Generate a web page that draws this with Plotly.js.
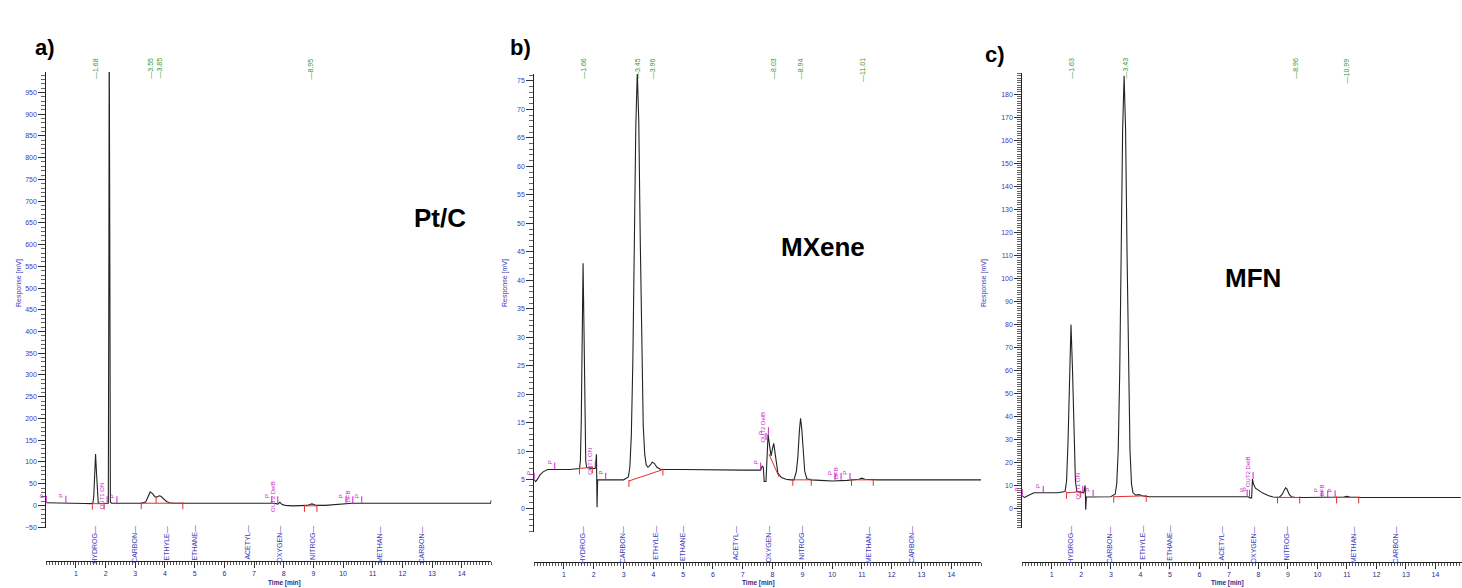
<!DOCTYPE html>
<html><head><meta charset="utf-8">
<script src="https://cdn.plot.ly/plotly-3.0.1.min.js"></script>
<style>html,body{margin:0;padding:0;background:#fff;}#chart{width:1462px;height:588px;}</style>
</head><body><div id="chart"></div>
<script>
// ---------- DATA ----------
// Panel a) Pt/C chromatogram
const aTime = [
0, 0.3, 0.7, 1.0, 1.3, 1.5, 1.57, 1.60, 1.63, 1.66,
1.69, 1.72, 1.75, 1.80, 1.95, 2.05, 2.09, 2.11, 2.12, 2.14,
2.16, 2.20, 2.5, 3.0, 3.2, 3.35, 3.42, 3.50, 3.58, 3.66,
3.72, 3.80, 3.86, 3.95, 4.05, 4.15, 4.30, 5.0, 6.0, 7.0,
7.70, 7.80, 7.87, 7.95, 8.05, 8.3, 8.6, 8.8, 8.9, 8.95,
9.0, 9.1, 9.4, 9.7, 9.9, 10.1, 10.3, 11.0, 12.0, 13.0,
14.0, 14.97, 15.0];
const aResp = [
6, 6, 5.5, 5, 4.5, 4, 5.5, 21, 77, 118,
77, 21, 6.5, 4.5, 4, 4, 5, 600, 1100, 600,
8, 5, 5, 5, 5, 8, 18, 31, 27, 20,
19, 22, 21, 15, 9, 6, 5, 5, 5, 5,
5, 3, 7, 2, 0, -1, -1, 0, 2.5, 3.5,
2.5, 0, 0, 1.5, 3, 5, 5, 5, 5, 5,
5, 5, 12];
// Panel b) MXene chromatogram
const bTime = [
0, 0.05, 0.12, 0.2, 0.3, 0.45, 0.8, 1.2, 1.52, 1.55,
1.58, 1.61, 1.64, 1.67, 1.70, 1.73, 1.76, 1.9, 2.05, 2.09,
2.11, 2.13, 2.16, 2.22, 2.6, 3.0, 3.16, 3.21, 3.26, 3.31,
3.36, 3.41, 3.46, 3.51, 3.56, 3.61, 3.66, 3.71, 3.76, 3.82,
3.90, 3.96, 4.03, 4.12, 4.25, 5.0, 6.0, 7.0, 7.60, 7.65,
7.69, 7.72, 7.78, 7.82, 7.85, 7.90, 7.95, 8.00, 8.04, 8.09,
8.18, 8.30, 8.45, 8.60, 8.72, 8.80, 8.85, 8.90, 8.94, 8.98,
9.03, 9.08, 9.15, 9.30, 9.60, 10.0, 10.5, 10.9, 11.0, 11.1,
11.5, 12.5, 14.0, 15.0];
const bResp = [
5, 4.7, 5.2, 5.9, 6.4, 6.8, 6.8, 6.8, 7, 8.3,
15.3, 32, 43, 32, 15.3, 8.3, 7.2, 7, 7, 9.5,
0.2, 5, 5, 5, 5, 5, 5.5, 7.2, 12.8, 25.6,
46, 67, 76.5, 68, 47, 27, 14.5, 9.5, 7.6, 7.2,
7.6, 8.1, 7.9, 7.2, 6.8, 6.8, 6.7, 6.7, 6.7, 7.4,
7.2, 4.7, 4.7, 10, 13, 11, 9.2, 10.5, 11.4, 9.5,
6.2, 5.4, 5.1, 5.0, 5.0, 6.5, 9, 13.5, 15.8, 14,
9.5, 6.5, 5.2, 5.0, 4.9, 4.8, 4.9, 5.1, 5.3, 5.1,
5.0, 5.0, 5.0, 5.0];
// Panel c) MFN chromatogram
const cTime = [
0, 0.08, 0.2, 0.4, 0.8, 1.2, 1.45, 1.50, 1.55, 1.60,
1.65, 1.70, 1.75, 1.80, 1.85, 1.95, 2.08, 2.13, 2.15, 2.17,
2.22, 2.6, 3.0, 3.15, 3.20, 3.25, 3.30, 3.35, 3.40, 3.45,
3.50, 3.55, 3.60, 3.65, 3.70, 3.75, 3.85, 3.95, 4.1, 4.3,
5.0, 6.0, 7.0, 7.65, 7.72, 7.77, 7.80, 7.83, 7.9, 8.0,
8.1, 8.2, 8.35, 8.5, 8.7, 8.80, 8.87, 8.92, 8.96, 9.0,
9.05, 9.12, 9.25, 9.6, 10.5, 10.9, 11.0, 11.1, 11.5, 13.0,
14.86];
const cResp = [
5.5, 5, 5.8, 7, 7, 7, 7.6, 12.1, 29.4, 61,
80, 61, 29.4, 12.1, 7.6, 7.2, 7, 10.2, -0.3, 5.2,
5.2, 5.2, 5.3, 6.5, 11, 25.3, 58, 110.5, 164.6, 188,
164.6, 110.5, 58, 25.3, 11, 7, 6, 6.2, 5.6, 5.3,
5.3, 5.3, 5.3, 5.3, 4.8, 4.8, 13, 11, 9, 8,
7.3, 6.6, 5.7, 5.2, 5.0, 6.2, 8.2, 9.2, 8.8, 7.6,
6.2, 5.3, 5.0, 5.0, 5.0, 5.2, 5.5, 5.2, 5.0, 5.0,
5.0];

// integration baselines (red)
const aBaseT = [1.55, 1.95, null, 3.2, 4.6, null, 8.7, 9.12];
const aBaseY = [4, 4, null, 5, 5, null, -1, -1];
const bBaseT = [1.52, 1.95, null, 3.18, 4.32, null, 7.88, 8.22, null, 8.68, 9.3, null, 10.65, 11.38];
const bBaseY = [7, 7.2, null, 4.8, 6.8, null, 9.5, 5.5, null, 5.0, 5.0, null, 5.0, 5.0];
const cBaseT = [1.5, 1.98, null, 3.1, 4.2, null, 8.65, 9.4, null, 10.65, 11.4];
const cBaseY = [7, 7.5, null, 5.3, 5.7, null, 5, 5, null, 5, 5];
const aTickT = [1.55, 1.95, 3.2, 3.7, 4.6, 8.7, 9.12];
const aTickY = [4, 4, 5, 19, 5, -1, -1];
const bTickT = [1.52, 1.95, 3.18, 4.32, 8.68, 9.3, 10.65, 11.38];
const bTickY = [7, 7.2, 4.8, 6.8, 5, 5, 5, 5];
const cTickT = [1.5, 1.98, 3.1, 4.2, 8.65, 9.4, 10.65, 11.4];
const cTickY = [7, 7.5, 5.3, 5.7, 5, 5, 5, 5];

// retention-time labels (green)
const aRT = ["1.68", "3.55", "3.85", "8.95"];
const aRTx = [1.66, 3.5, 3.8, 8.92];
const bRT = ["1.66", "3.45", "3.96", "8.03", "8.94", "11.01"];
const bRTx = [1.65, 3.47, 3.98, 8.03, 8.95, 11.0];
const cRT = ["1.63", "3.43", "8.96", "10.99"];
const cRTx = [1.66, 3.48, 9.25, 11.0];

// compound names (blue) and their times
const compounds = ["HYDROG", "CARBON", "ETHYLE", "ETHANE", "ACETYL", "OXYGEN", "NITROG", "METHAN", "CARBON"];
const compoundT = [1.6, 2.97, 4.05, 4.98, 6.75, 7.85, 8.95, 11.23, 12.66];

// event markers (magenta)
const aEvT = [0.0, 0.66, 2.05, 2.38, 7.6, 7.8, 10.1, 10.33, 10.63];
const aEvY = [6, 6, 5, 5, 5, 5, 5, 5, 5];
const aEvTxt = ["P", "P", "OUT1 ON", "P", "P", "OUT2 DelB", "P", "BFB", "P"];
const bEvT = [0.0, 0.69, 2.05, 2.4, 7.6, 7.78, 7.86, 10.1, 10.3, 10.6];
const bEvY = [5, 6.8, 7, 5, 6.8, 12, 13, 5, 5, 5];
const bEvTxt = ["P", "P", "OUT1 ON", "P", "P", "P", "OUT2 DelB", "P", "BFB", "P"];
const cEvT = [0.0, 0.71, 2.05, 2.4, 7.62, 7.7, 7.82, 10.15, 10.35, 10.6];
const cEvY = [5.5, 7, 7, 5.3, 5.3, 5.3, 13, 5, 5, 5];
const cEvTxt = ["P", "P", "OUT1 ON", "P", "P", "P", "OUT2 DelB", "P", "BFB", "P"];

const panelNames = ["Pt/C", "MXene", "MFN"];
const panelLetters = ["a)", "b)", "c)"];

// ---------- STYLE / LAYOUT ----------
const W = 1462, H = 588;
const px = v => v / W, py = v => 1 - v / H;
const BLUE = "#3b3bbb", NAVY = "#2a2a8a", GREEN = "#2e9a2e", MAG = "#cc22cc", RED = "#e03030";
const FONT = "Liberation Sans, Arial, sans-serif";

const panels = [
  {t: aTime, r: aResp, bt: aBaseT, by: aBaseY, tt: aTickT, ty: aTickY, rt: aRT, rtx: aRTx, ev: [aEvT, aEvY, aEvTxt],
   xd: [46.3, 491.4], xr: [0, 15], xpos: 561, yd: [528, 72], yr: [-52, 997], dt: 50, mdt: 10, ppu: 0.436,
   ytitle: 13, name: [412, 218], letter: [33, 33], timeX: 267},
  {t: bTime, r: bResp, bt: bBaseT, by: bBaseY, tt: bTickT, ty: bTickY, rt: bRT, rtx: bRTx, ev: [bEvT, bEvY, bEvTxt],
   xd: [534.2, 981.1], xr: [0, 15], xpos: 562, yd: [531.7, 74], yr: [-4.1, 76.2], dt: 5, mdt: 1, ppu: 5.70,
   ytitle: 505, name: [823, 247], letter: [520, 33], timeX: 758},
  {t: cTime, r: cResp, bt: cBaseT, by: cBaseY, tt: cTickT, ty: cTickY, rt: cRT, rtx: cRTx, ev: [cEvT, cEvY, cEvTxt],
   xd: [1022.3, 1462], xr: [0, 14.9], xpos: 562, yd: [528.3, 73.3], yr: [-8.4, 189.1], dt: 10, mdt: 1, ppu: 2.304,
   ytitle: 990, name: [1283, 278], letter: [1007, 40], timeX: 1245}
];

const traces = [];
const layout = {
  width: W, height: H, margin: {l: 0, r: 0, t: 0, b: 0},
  paper_bgcolor: "#fff", plot_bgcolor: "rgba(0,0,0,0)",
  showlegend: false, font: {family: FONT, size: 7, color: BLUE},
  annotations: []
};

panels.forEach((p, i) => {
  const sx = i === 0 ? "" : String(i + 1);
  const xa = "x" + sx, ya = "y" + sx;
  traces.push({x: p.t, y: p.r, xaxis: xa, yaxis: ya, type: "scatter", mode: "lines",
    line: {color: "#222", width: 1.1}, hoverinfo: "skip"});
  traces.push({x: p.bt, y: p.by, xaxis: xa, yaxis: ya, type: "scatter", mode: "lines",
    line: {color: RED, width: 1}, hoverinfo: "skip", connectgaps: false});
  // short red ticks at integration start/end
  const tx = [], ty = [];
  const d = 6 / p.ppu, u = 1 / p.ppu;
  p.tt.forEach((t, k) => { tx.push(t, t, null); ty.push(p.ty[k] + u, p.ty[k] - d, null); });
  traces.push({x: tx, y: ty, xaxis: xa, yaxis: ya, type: "scatter", mode: "lines",
    line: {color: RED, width: 1}, hoverinfo: "skip"});

  layout["xaxis" + sx] = {
    domain: [px(p.xd[0]), px(p.xd[1])], range: p.xr, anchor: "free", position: py(p.xpos),
    showline: true, linecolor: "#222", linewidth: 1, showgrid: false, zeroline: false,
    ticks: "outside", ticklen: 6, tickcolor: "#333", tickwidth: 1,
    tickmode: "array", tickvals: [1,2,3,4,5,6,7,8,9,10,11,12,13,14],
    tickfont: {size: 7, color: NAVY, family: FONT},
    minor: {ticks: "outside", tickmode: "linear", tick0: 0, dtick: 0.1, ticklen: 3, tickcolor: "#555", tickwidth: 1},
    fixedrange: true
  };
  layout["yaxis" + sx] = {
    domain: [py(p.yd[0]), py(p.yd[1])], range: p.yr, anchor: xa,
    showline: true, linecolor: "#222", linewidth: 1, showgrid: false, zeroline: false,
    ticks: "outside", ticklen: 7, tickcolor: "#333", tickwidth: 1, dtick: p.dt, tick0: 0,
    tickfont: {size: 7, color: BLUE, family: FONT},
    minor: {ticks: "outside", dtick: p.mdt, tick0: 0, ticklen: 4, tickcolor: "#666", tickwidth: 1},
    fixedrange: true
  };

  const A = layout.annotations;
  // panel letter and name
  A.push({xref: "paper", yref: "paper", x: px(p.letter[0]), y: py(p.letter[1]), text: "<b>" + panelLetters[i] + "</b>",
    showarrow: false, font: {size: 22, color: "#000", family: FONT}});
  A.push({xref: "paper", yref: "paper", x: px(p.name[0]), y: py(p.name[1]), text: "<b>" + panelNames[i] + "</b>",
    showarrow: false, font: {size: 26, color: "#000", family: FONT}});
  // axis titles
  A.push({xref: "paper", yref: "paper", x: px(p.ytitle), y: py(283), text: "Response [mV]", textangle: -90,
    showarrow: false, font: {size: 7, color: BLUE, family: FONT}});
  A.push({xref: "paper", yref: "paper", x: px(p.timeX), y: 0, yanchor: "bottom", borderpad: 0, text: "<b>Time [min]</b>",
    showarrow: false, font: {size: 6.5, color: NAVY, family: FONT}});
  // compound labels
  compounds.forEach((c, k) => {
    A.push({xref: xa, yref: "paper", x: compoundT[k], y: py(524), yanchor: "top", text: c + "\u2014", textangle: -90,
      showarrow: false, font: {size: 7, color: BLUE, family: FONT}});
  });
  // retention-time labels
  p.rt.forEach((r, k) => {
    A.push({xref: xa, yref: "paper", x: p.rtx[k], y: py(56), yanchor: "top", text: "\u2014" + r, textangle: -90,
      showarrow: false, font: {size: 7, color: GREEN, family: FONT}});
  });
  // event markers
  p.ev[0].forEach((t, k) => {
    A.push({xref: xa, yref: ya, x: t, y: p.ev[1][k], text: p.ev[2][k], textangle: -90,
      showarrow: true, arrowhead: 0, arrowwidth: 1, arrowcolor: MAG, ax: 0, ay: -7, yanchor: "bottom",
      font: {size: 6, color: MAG, family: FONT}});
  });
});

Plotly.newPlot("chart", traces, layout, {staticPlot: true, displayModeBar: false});
</script>
</body></html>
